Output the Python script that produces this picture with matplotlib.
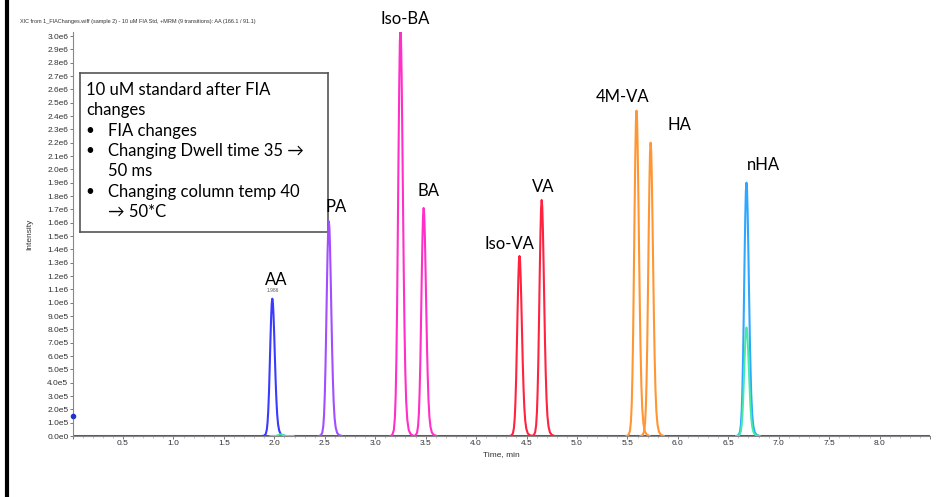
import matplotlib.pyplot as plt
import numpy as np
from matplotlib.lines import Line2D
from matplotlib.ticker import FuncFormatter, MultipleLocator

# peak table
PEAK_NAMES = ["AA", "PA", "Iso-BA", "BA", "Iso-VA", "VA", "4M-VA", "HA", "nHA"]
RET_TIMES = [1.98, 2.54, 3.25, 3.48, 4.43, 4.65, 5.59, 5.73, 6.68]
HEIGHTS = [1.03e6, 1.61e6, 3.06e6, 1.71e6, 1.35e6, 1.77e6, 2.44e6, 2.20e6, 1.90e6]
PEAK_COLORS = ["#3b3bff", "#a24dff", "#ff2fc8", "#ff2fc8", "#ff2340",
               "#ff2340", "#ff9633", "#ff9633", "#2ea8ff"]
LABEL_XY = [(2.02, 1.11e6), (2.61, 1.66e6), (3.30, 3.07e6), (3.53, 1.78e6),
            (4.33, 1.38e6), (4.67, 1.81e6), (5.45, 2.48e6), (6.02, 2.27e6),
            (6.85, 1.97e6)]

# second transition under nHA, small bump near AA
EXTRA_RT = [6.68, 2.06]
EXTRA_H = [0.815e6, 0.012e6]
EXTRA_COLOR = "#44eaa6"

# peak shape (offset in min, relative intensity), slightly tailing
PROFILE_DT = [-0.100, -0.080, -0.065, -0.055, -0.047, -0.040, -0.033, -0.026,
              -0.019, -0.012, -0.006, 0.000, 0.006, 0.012, 0.019, 0.026, 0.033,
              0.040, 0.048, 0.057, 0.068, 0.082, 0.100, 0.130]
PROFILE_REL = [0.000, 0.003, 0.015, 0.045, 0.10, 0.19, 0.32, 0.50, 0.69, 0.86,
               0.965, 1.000, 0.97, 0.88, 0.73, 0.56, 0.40, 0.27, 0.16, 0.085,
               0.04, 0.015, 0.005, 0.000]

# (bullet?, text) lines of the note box
BOX_LINES = [
    (False, "10 uM standard after FIA"),
    (False, "changes"),
    (True, "FIA changes"),
    (True, "Changing Dwell time 35 →"),
    (False, "50 ms"),
    (True, "Changing column temp 40"),
    (False, "→ 50*C"),
]

TITLE = "XIC from 1_FIAChanges.wiff (sample 2) - 10 uM FIA Std, +MRM (9 transitions): AA (166.1 / 91.1)"

plt.rcParams["font.family"] = ["Liberation Sans", "DejaVu Sans"]


def sci_label(v, _pos):
    if v == 0:
        return "0.0e0"
    exp = int(np.floor(np.log10(abs(v)) + 1e-9))
    return f"{v / 10 ** exp:.1f}e{exp}"


W, H = 950, 497
fig = plt.figure(figsize=(W / 100, H / 100), dpi=100)
ax = fig.add_axes([0.0764, 0.1227, 0.979 - 0.0764, 0.8129])

dt = np.array(PROFILE_DT)
rel = np.array(PROFILE_REL)

ax.plot([0, 8.5], [0, 0], color="#3158d6", lw=2.2, zorder=2)

for rt, h in zip(EXTRA_RT, EXTRA_H):
    ax.plot(rt + dt, h * rel, color=EXTRA_COLOR, lw=1.4, zorder=3)

for rt, h, c in zip(RET_TIMES, HEIGHTS, PEAK_COLORS):
    ax.plot(rt + dt, h * rel, color=c, lw=1.5, zorder=2.5)

ax.plot([0], [1.5e5], "o", color="#2233cc", ms=3, clip_on=False, zorder=5)

label_font = ["Lato", "DejaVu Sans"]
for name, (lx, ly) in zip(PEAK_NAMES, LABEL_XY):
    ax.text(lx, ly, name, ha="center", va="bottom", fontsize=12,
            family=label_font, clip_on=False, zorder=10)

ax.text(RET_TIMES[0], HEIGHTS[0] * 1.04, "1.986", ha="center", va="bottom",
        fontsize=3.5, color="#555555")

ax.set_xlim(0, 8.5)
ax.set_ylim(0, 3.03e6)
ax.xaxis.set_major_locator(MultipleLocator(0.5))
ax.xaxis.set_minor_locator(MultipleLocator(0.1))
ax.yaxis.set_major_locator(MultipleLocator(1e5))
ax.yaxis.set_major_formatter(FuncFormatter(sci_label))
ax.xaxis.set_major_formatter(
    FuncFormatter(lambda v, p: "" if v < 0.25 or v > 8.25 else f"{v:.1f}"))

for side in ("top", "right"):
    ax.spines[side].set_visible(False)
ax.spines["left"].set_color("#888888")
ax.spines["bottom"].set_color("#888888")
ax.tick_params(axis="both", labelsize=6, colors="#444444", length=2, width=0.5, pad=1)
ax.tick_params(axis="x", which="minor", length=1.2, width=0.4, colors="#999999")
ax.tick_params(axis="x", labelcolor="#333333")
ax.tick_params(axis="y", labelcolor="#333333")

ax.set_xlabel("Time, min", fontsize=6, color="#333333", labelpad=3)
ax.set_ylabel("Intensity", fontsize=6, color="#333333", labelpad=10)

fig.text(20 / W, 1 - 21 / H, TITLE, fontsize=4, color="#333333",
         ha="left", va="center")

# note box (white, drawn under the peak labels)
box_ax = fig.add_axes([80 / W, 1 - 232 / H, 248 / W, 159 / H])
box_ax.set_xlim(80, 328)
box_ax.set_ylim(232, 73)
box_ax.set_xticks([])
box_ax.set_yticks([])
box_ax.set_zorder(1)
ax.set_zorder(2)
ax.patch.set_alpha(0)
for s in box_ax.spines.values():
    s.set_color("#555555")
    s.set_linewidth(1.2)
for i, (bullet, txt) in enumerate(BOX_LINES):
    y = 90 + i * 20.3
    indent = bullet or i > 1
    if bullet:
        box_ax.text(90, y, "•", ha="center", va="center", fontsize=11,
                    family=label_font)
    box_ax.text(108 if indent else 86, y, txt, ha="left", va="center",
                fontsize=12, family=label_font)

fig.add_artist(Line2D([7 / W, 7 / W], [0, 1], color="black", lw=3))

fig.savefig("out.png", dpi=100)
